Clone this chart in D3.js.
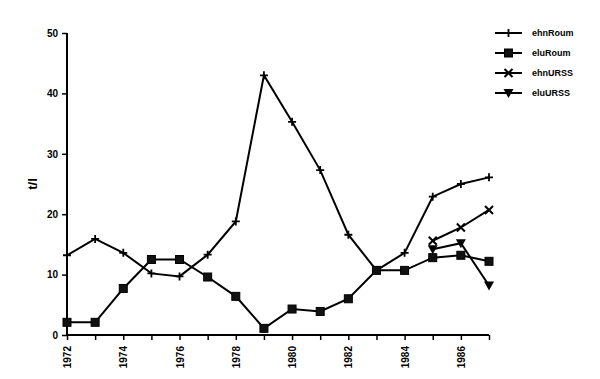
<!DOCTYPE html>
<html lang="en">
<head>
  <meta charset="UTF-8" />
  <title>t/l 1972-1987</title>
  <script src="https://d3js.org/d3.v7.min.js"></script>
  <style>
    body { margin: 0; background: #fff; }
    text { font-family: "Liberation Sans", Arial, sans-serif; font-weight: bold; fill: #000; }
  </style>
</head>
<body>
  <svg width="600" height="379"></svg>

  <script>
    const years = d3.range(1972, 1988);
    const ehnRoum = [13.2, 15.9, 13.6, 10.2, 9.7, 13.3, 18.8, 43.0, 35.3, 27.3, 16.6, 10.7, 13.6, 22.9, 25.0, 26.1];
    const eluRoum = [2.1, 2.1, 7.7, 12.5, 12.5, 9.6, 6.4, 1.1, 4.3, 3.9, 6.0, 10.7, 10.7, 12.8, 13.2, 12.2];
    const ehnURSSYears = [1985, 1986, 1987];
    const ehnURSS = [15.6, 17.8, 20.7];
    const eluURSSYears = [1985, 1986, 1987];
    const eluURSS = [14.2, 15.2, 8.2];
    const yTicks = [0, 10, 20, 30, 40, 50];
    const xLabelYears = [1972, 1974, 1976, 1978, 1980, 1982, 1984, 1986];

    const series = [
      { name: "ehnRoum", x: years, y: ehnRoum, marker: "plus" },
      { name: "eluRoum", x: years, y: eluRoum, marker: "square" },
      { name: "ehnURSS", x: ehnURSSYears, y: ehnURSS, marker: "cross" },
      { name: "eluURSS", x: eluURSSYears, y: eluURSS, marker: "tri" }
    ];

    const svg = d3.select("svg");

    const x = d3.scaleLinear().domain([1972, 1987]).range([67, 489]);
    const y = d3.scaleLinear().domain([0, 50]).range([335, 33]);

    // axes
    const yAxis = svg.append("g")
      .attr("transform", "translate(67,0)")
      .call(d3.axisLeft(y).tickValues(yTicks).tickSize(5).tickPadding(4));
    yAxis.select(".domain").attr("stroke-width", 2).attr("d", `M0,${y(50)}V${y(0) + 1}`);
    yAxis.selectAll(".tick line").attr("stroke-width", 1.5);
    yAxis.selectAll(".tick text").style("font-size", "10px");

    const xAxis = svg.append("g")
      .attr("transform", `translate(0,${y(0)})`)
      .call(d3.axisBottom(x).tickValues(years).tickSize(5).tickFormat(d => xLabelYears.includes(d) ? d : ""));
    xAxis.select(".domain").attr("stroke-width", 2).attr("d", `M${x(1972)},0H${x(1987)}`);
    xAxis.selectAll(".tick line").attr("stroke-width", 1.5);
    xAxis.selectAll(".tick text")
      .style("font-size", "10px")
      .attr("transform", "rotate(-90)")
      .attr("text-anchor", "end")
      .attr("dy", "0.35em")
      .attr("x", -11)
      .attr("y", 0);

    // y label
    svg.append("text")
      .attr("transform", `translate(37,${y(25)}) rotate(-90)`)
      .attr("text-anchor", "middle")
      .style("font-size", "13px")
      .text("t/l");

    function drawMarker(g, type, cx, cy) {
      if (type === "plus") {
        g.append("path").attr("d", `M${cx - 4},${cy}H${cx + 4}M${cx},${cy - 4}V${cy + 4}`)
          .attr("stroke", "#000").attr("stroke-width", 1.8);
      } else if (type === "square") {
        g.append("rect").attr("x", cx - 4).attr("y", cy - 4).attr("width", 8).attr("height", 8)
          .attr("fill", "#111").attr("stroke", "#000").attr("stroke-width", 1);
      } else if (type === "cross") {
        g.append("path").attr("d", `M${cx - 4},${cy - 4}L${cx + 4},${cy + 4}M${cx - 4},${cy + 4}L${cx + 4},${cy - 4}`)
          .attr("stroke", "#000").attr("stroke-width", 2);
      } else if (type === "tri") {
        g.append("path").attr("d", `M${cx - 5},${cy - 4}H${cx + 5}L${cx},${cy + 5}Z`)
          .attr("fill", "#000");
      }
    }

    const line = d3.line().x(d => x(d[0])).y(d => y(d[1]));

    series.forEach(s => {
      const pts = s.x.map((yr, i) => [yr, s.y[i]]);
      const g = svg.append("g");
      g.append("path")
        .attr("d", line(pts))
        .attr("fill", "none")
        .attr("stroke", "#000")
        .attr("stroke-width", 2);
      pts.forEach(p => drawMarker(g, s.marker, x(p[0]), y(p[1])));
    });

    // legend
    const legend = svg.append("g");
    series.forEach((s, i) => {
      const ly = 33 + i * 20;
      legend.append("line")
        .attr("x1", 495).attr("x2", 522)
        .attr("y1", ly).attr("y2", ly)
        .attr("stroke", "#000").attr("stroke-width", 2);
      drawMarker(legend, s.marker, 508.5, ly);
      legend.append("text")
        .attr("x", 532).attr("y", ly)
        .attr("dy", "0.35em")
        .style("font-size", "9px")
        .text(s.name);
    });
  </script>
</body>
</html>
